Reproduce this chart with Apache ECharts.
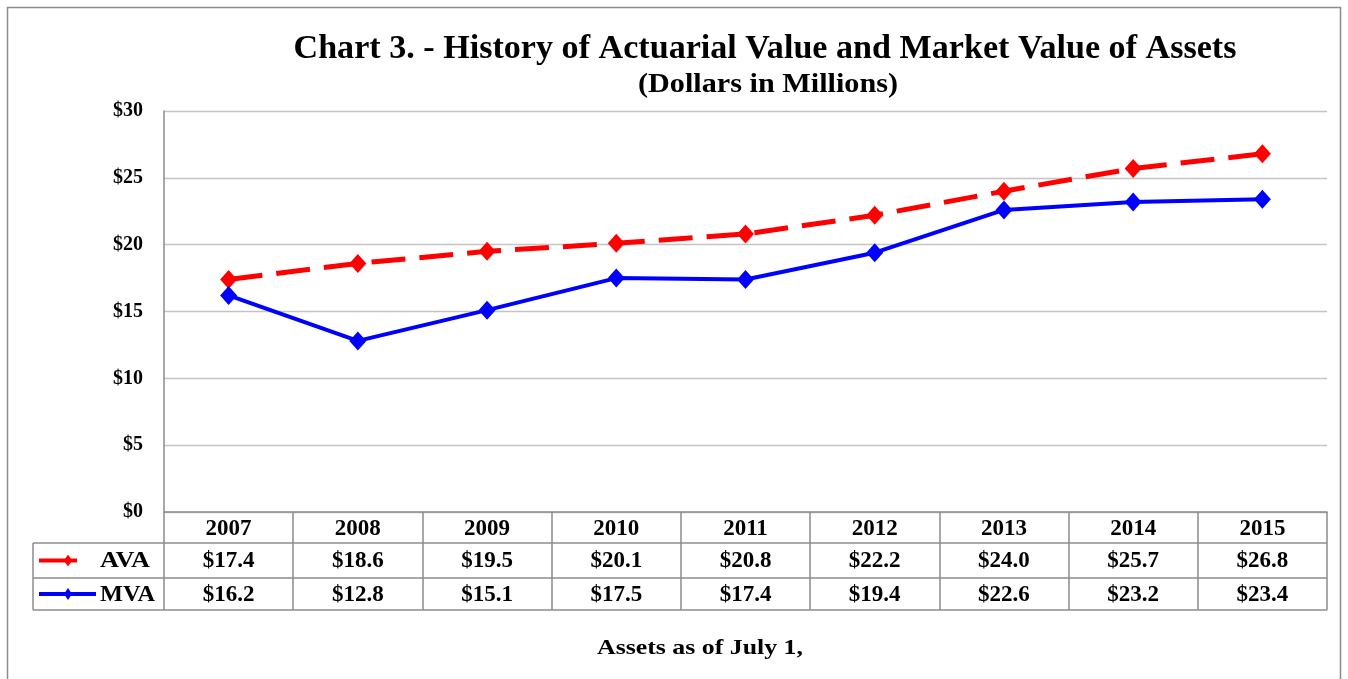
<!DOCTYPE html>
<html><head><meta charset="utf-8">
<script src="https://cdn.jsdelivr.net/npm/echarts@6/dist/echarts.min.js"></script>
<style>html,body{margin:0;padding:0;background:#fff}#c{width:1348px;height:679px}</style>
</head><body><div id="c"></div>
<script>
const years = ['2007','2008','2009','2010','2011','2012','2013','2014','2015'];
const ava = [17.4, 18.6, 19.5, 20.1, 20.8, 22.2, 24.0, 25.7, 26.8];
const mva = [16.2, 12.8, 15.1, 17.5, 17.4, 19.4, 22.6, 23.2, 23.4];
const yTicks = [0, 5, 10, 15, 20, 25, 30];

const FONT = '"Liberation Serif","Times New Roman",serif';
const GL = 164, GR = 1327, GT = 111, GB = 512;
const ROW1 = 543, ROW2 = 578, ROW3 = 610, TL = 33;
const gray = '#8c8c8c';

const measureCtx = document.createElement('canvas').getContext('2d');
function widthOf(text, font) { measureCtx.font = font; return measureCtx.measureText(text).width; }

const chart = echarts.init(document.getElementById('c'), null, {renderer: 'canvas'});
const option = {
  animation: false,
  backgroundColor: '#fff',
  grid: {left: GL, right: 1348 - GR, top: GT, bottom: 679 - GB, containLabel: false},
  xAxis: {
    type: 'category', data: years, boundaryGap: true,
    axisLine: {show: true, lineStyle: {color: gray, width: 1.5}},
    axisTick: {show: true, alignWithLabel: false, length: ROW3 - GB, lineStyle: {color: gray, width: 1.5}},
    axisLabel: {show: true, margin: 6, fontFamily: FONT, fontWeight: 'bold', fontSize: 23, color: '#000'}
  },
  yAxis: {
    type: 'value', min: yTicks[0], max: yTicks[yTicks.length - 1], interval: 5,
    axisLine: {show: true, lineStyle: {color: gray, width: 1.5}},
    axisTick: {show: false},
    splitLine: {show: true, lineStyle: {color: '#c4c4c4', width: 1.3}},
    axisLabel: {margin: 21, fontFamily: FONT, fontWeight: 'bold', fontSize: 20, color: '#000',
      formatter: v => '$' + v}
  },
  series: [
    {name: 'AVA', type: 'line', data: ava, symbol: 'diamond', symbolSize: [17, 19],
      itemStyle: {color: '#ff0000'}, lineStyle: {color: '#ff0000', width: 5, type: [34, 14]}, z: 3},
    {name: 'MVA', type: 'line', data: mva, symbol: 'diamond', symbolSize: [17, 19],
      itemStyle: {color: '#0000ff'}, lineStyle: {color: '#0000ff', width: 4}, z: 4}
  ]
};
chart.setOption(option);

function fitted(text, size, cx, cy, targetW) {
  const font = 'bold ' + size + 'px ' + FONT;
  const s = targetW / widthOf(text, font);
  return {type: 'text', x: cx, y: cy, scaleX: s, style: {text: text, x: 0, y: 0,
    align: 'center', verticalAlign: 'middle', font: font, fill: '#000'}};
}

function build() {
  const els = [];
  els.push({type: 'rect', shape: {x: 7.5, y: 7.5, width: 1333, height: 700}, style: {fill: null, stroke: gray, lineWidth: 1.5}, silent: true});
  els.push(fitted('Chart 3. - History of Actuarial Value and Market Value of Assets', 33, 765, 49, 943));
  els.push(fitted('(Dollars in Millions)', 28, 768, 85, 260));
  els.push(fitted('Assets as of July 1,', 22, 700, 648, 206));
  [ROW1, ROW2, ROW3].forEach(y => {
    els.push({type: 'line', shape: {x1: TL, y1: y, x2: GR, y2: y}, style: {stroke: gray, lineWidth: 1.5}});
  });
  els.push({type: 'line', shape: {x1: TL, y1: ROW1, x2: TL, y2: ROW3}, style: {stroke: gray, lineWidth: 1.5}});
  const rows = [{name: 'AVA', data: ava, color: '#ff0000', y: (ROW1 + ROW2) / 2, x1: 39, x2: 77},
                {name: 'MVA', data: mva, color: '#0000ff', y: (ROW2 + ROW3) / 2, x1: 39, x2: 96}];
  rows.forEach(r => {
    els.push({type: 'line', shape: {x1: r.x1, y1: r.y, x2: r.x2, y2: r.y}, style: {stroke: r.color, lineWidth: 4}});
    const cx = 68;
    els.push({type: 'polygon', shape: {points: [[cx, r.y - 6], [cx + 4, r.y], [cx, r.y + 6], [cx - 4, r.y]]}, style: {fill: r.color}});
    const f = 'bold 23px ' + FONT;
    const tw = r.name === 'AVA' ? 50 : 55;
    const s = tw / widthOf(r.name, f);
    els.push({type: 'text', x: 100, y: r.y + 1, scaleX: s, style: {text: r.name, x: 0, y: 0, align: 'left', verticalAlign: 'middle',
      font: f, fill: '#000'}});
    r.data.forEach((v, i) => {
      const px = chart.convertToPixel({xAxisIndex: 0}, years[i]);
      els.push({type: 'text', style: {text: '$' + v.toFixed(1), x: px, y: r.y + 1, align: 'center', verticalAlign: 'middle',
        font: f, fill: '#000'}});
    });
  });
  chart.setOption({graphic: {elements: els}});
}
build();
</script></body></html>
